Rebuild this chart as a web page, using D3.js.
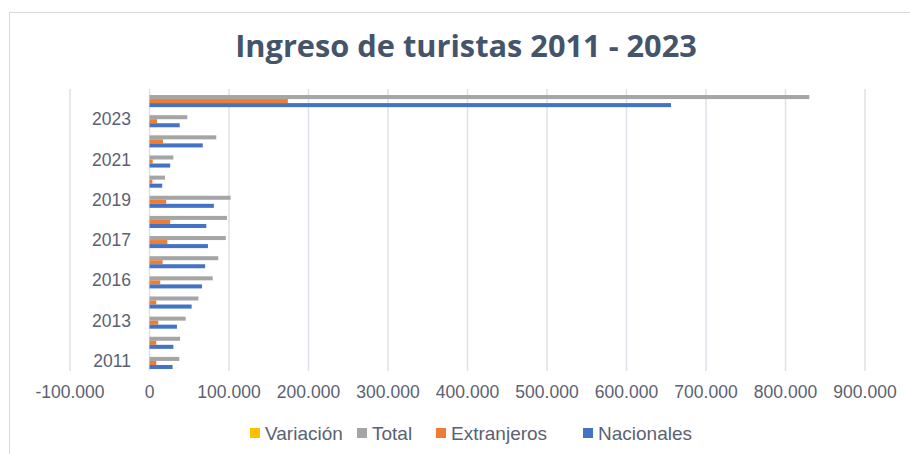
<!DOCTYPE html>
<html>
<head>
<meta charset="utf-8">
<script src="https://cdn.jsdelivr.net/npm/d3@7"></script>
<style>
  body { margin: 0; background: #fff; }
  svg { display: block; }
</style>
</head>
<body>
<svg id="chart" width="910" height="454"></svg>
<script>
// categorias de abajo hacia arriba (la ultima fila es el acumulado)
const years = ['2011', '2012', '2013', '2014', '2016', '2016', '2017', '2018', '2019', '2020', '2021', '2022', '2023', 'Total']
const nacionales = [29000, 30000, 34500, 53000, 66000, 70000, 73500, 71500, 81000, 16000, 26000, 67000, 38000, 656000]
const extranjeros = [8500, 8500, 11000, 8500, 13500, 16500, 22500, 26000, 21000, 3500, 4000, 17000, 9500, 174000]
const total = [37500, 38500, 45500, 61500, 79500, 86500, 96000, 97500, 102000, 19500, 30000, 84000, 47500, 830000]
const variacion = [null, null, null, null, null, null, null, null, null, null, null, null, null, null]
const xTicks = [-100000, 0, 100000, 200000, 300000, 400000, 500000, 600000, 700000, 800000, 900000]

const seriesNames = ['Variación', 'Total', 'Extranjeros', 'Nacionales']
const seriesValues = [variacion, total, extranjeros, nacionales]
const colors = ['#FFC000', '#A5A5A5', '#ED7D31', '#4472C4']

const textColor = '#5a6272'
const font = '"Liberation Sans", Arial, sans-serif'

const svg = d3.select('#chart')

// borde del grafico
svg.append('rect')
  .attr('x', 9.5).attr('y', 12.5)
  .attr('width', 920).attr('height', 460)
  .attr('fill', 'none')
  .attr('stroke', '#d9d9d9')

const title = svg.append('text')
  .attr('x', 466).attr('y', 57)
  .attr('text-anchor', 'middle')
  .style('font-family', '"Open Sans", "Noto Sans", sans-serif')
  .style('font-weight', 'bold')
  .style('font-size', '27px')
  .style('fill', '#44546A')
  .text('Ingreso de turistas 2011 - 2023')

// ajustar el ancho del titulo al original (~462px)
const tw = title.node().getComputedTextLength()
title.style('font-size', (27 * 462 / tw) + 'px')

const plot = { left: 70, right: 865, top: 89, bottom: 371 }

const x = d3.scaleLinear()
  .domain([-100000, 900000])
  .range([plot.left, plot.right])

const y = d3.scaleBand()
  .domain(d3.range(years.length))
  .range([plot.bottom, plot.top])

const inner = d3.scaleBand()
  .domain(seriesNames)
  .range([0, y.bandwidth()])
  .paddingOuter(0.5)

const fmt = d3.formatLocale({ decimal: ',', thousands: '.', grouping: [3], currency: ['$', ''], minus: '-' }).format(',.0f')

// lineas de division
svg.append('g')
  .selectAll('line')
  .data(xTicks)
  .enter()
  .append('line')
  .attr('x1', d => x(d)).attr('x2', d => x(d))
  .attr('y1', plot.top).attr('y2', plot.bottom)
  .attr('stroke', '#dde2ea')
  .attr('stroke-width', 1.5)

// etiquetas eje x
svg.append('g')
  .selectAll('text')
  .data(xTicks)
  .enter()
  .append('text')
  .attr('x', d => x(d))
  .attr('y', 398)
  .attr('text-anchor', 'middle')
  .style('font-family', font)
  .style('font-size', '17.5px')
  .style('fill', textColor)
  .text(d => fmt(d))

// etiquetas eje y (una si, una no, como Excel)
svg.append('g')
  .selectAll('text')
  .data(d3.range(years.length).filter(i => i % 2 === 0))
  .enter()
  .append('text')
  .attr('x', 131)
  .attr('y', i => y(i) + y.bandwidth() / 2 + 6)
  .attr('text-anchor', 'end')
  .style('font-family', font)
  .style('font-size', '17.5px')
  .style('fill', textColor)
  .text(i => years[i])

// barras
const rows = []
seriesNames.forEach((name, s) => {
  seriesValues[s].forEach((v, i) => {
    if (v !== null) rows.push({ name, i, v, color: colors[s] })
  })
})

svg.append('g')
  .selectAll('rect')
  .data(rows)
  .enter()
  .append('rect')
  .attr('x', d => x(Math.min(0, d.v)))
  .attr('y', d => y(d.i) + inner(d.name))
  .attr('width', d => Math.abs(x(d.v) - x(0)))
  .attr('height', inner.bandwidth())
  .attr('fill', d => d.color)

// leyenda
const legendX = [250, 357, 436, 583]
const legend = svg.append('g')
  .selectAll('g')
  .data(seriesNames)
  .enter()
  .append('g')
  .attr('transform', (d, i) => `translate(${legendX[i]}, 433)`)

legend.append('rect')
  .attr('x', 0).attr('y', -5)
  .attr('width', 10).attr('height', 10)
  .attr('fill', (d, i) => colors[i])

legend.append('text')
  .attr('x', 15).attr('y', 6.5)
  .style('font-family', font)
  .style('font-size', '19px')
  .style('fill', textColor)
  .text(d => d)
</script>
</body>
</html>
